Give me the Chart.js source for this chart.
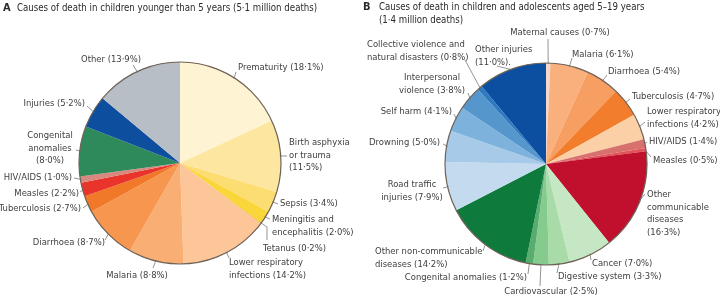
<!DOCTYPE html>
<html>
<head>
<meta charset="utf-8">
<script src="https://cdn.jsdelivr.net/npm/chart.js@4"></script>
<style>
  html, body { margin: 0; padding: 0; background: #fff; }
  #wrap { position: relative; width: 720px; height: 298px; overflow: hidden; }
  #wrap canvas { position: absolute; left: 0; top: 0; }
</style>
</head>
<body>
<div id="wrap">
  <canvas id="chartA" width="720" height="298"></canvas>
  <canvas id="chartB" width="720" height="298"></canvas>
</div>
<script>
// Panel A: children younger than 5 years (% of deaths)
const causesA = ['Prematurity', 'Birth asphyxia or trauma', 'Sepsis', 'Meningitis and encephalitis', 'Tetanus',
    'Lower respiratory infections', 'Malaria', 'Diarrhoea', 'Tuberculosis', 'Measles', 'HIV/AIDS',
    'Congenital anomalies', 'Injuries', 'Other'];
const sharesA = [18.1, 11.5, 3.4, 2.0, 0.2, 14.2, 8.8, 8.7, 2.7, 2.2, 1.0, 8.0, 5.2, 13.9];

// Panel B: children and adolescents aged 5-19 years (% of deaths)
const causesB = ['Maternal causes', 'Malaria', 'Diarrhoea', 'Tuberculosis', 'Lower respiratory infections', 'HIV/AIDS',
    'Measles', 'Other communicable diseases', 'Cancer', 'Digestive system', 'Cardiovascular', 'Congenital anomalies',
    'Other non-communicable diseases', 'Road traffic injuries', 'Drowning', 'Self harm', 'Interpersonal violence',
    'Collective violence and natural disasters', 'Other injuries'];
const sharesB = [0.7, 6.1, 5.4, 4.7, 4.2, 1.4, 0.5, 16.3, 7.0, 3.3, 2.5, 1.2, 14.2, 7.9, 5.0, 4.1, 3.8, 0.8, 11.0];

const coloursA = ['#FEF3D2', '#FDE7A0', '#FCDD72', '#FAD63A', '#F2C01A', '#FCC699', '#F9AE74', '#F6964F',
    '#F07828', '#E8342B', '#D98880', '#2F8A5B', '#0D4E9E', '#B7BEC6'];
const coloursB = ['#F3D8D2', '#FAB07C', '#F79E62', '#F27D2C', '#FBD0A6', '#D8706E', '#E25458', '#C0102E',
    '#C6E7C4', '#A8DBA8', '#86CB8E', '#58AC6E', '#0E7A3C', '#C4DAEE', '#A6CAE7', '#7DB2DD', '#5596CD',
    '#2F7BC0', '#0C4FA0'];

const pct = v => ' (' + v.toFixed(1).replace('.', '\u00b7') + '%)';

// label layout: text lines, text x/y (first line centre), align, leader bend points
const layoutA = [
    { lines: ['Prematurity' + pct(18.1)], x: 238, y: 68, align: 'left', lead: [[236, 72]] },
    { lines: ['Birth asphyxia', 'or trauma', pct(11.5).trim()], x: 289, y: 143, align: 'left', lead: [[287, 156]] },
    { lines: ['Sepsis' + pct(3.4)], x: 280, y: 204, align: 'left', lead: [[278, 204]] },
    { lines: ['Meningitis and', 'encephalitis' + pct(2.0)], x: 272, y: 220, align: 'left', lead: [[270, 219]] },
    { lines: ['Tetanus' + pct(0.2)], x: 263, y: 249, align: 'left', lead: [[267, 227], [267, 240]] },
    { lines: ['Lower respiratory', 'infections' + pct(14.2)], x: 229, y: 263, align: 'left', lead: [[229, 258]] },
    { lines: ['Malaria' + pct(8.8)], x: 137, y: 276, align: 'center', lead: [[153, 268]] },
    { lines: ['Diarrhoea' + pct(8.7)], x: 105, y: 243, align: 'right', lead: [[105, 240]] },
    { lines: ['Tuberculosis' + pct(2.7)], x: 81, y: 209, align: 'right', lead: [[83, 208]] },
    { lines: ['Measles' + pct(2.2)], x: 79, y: 194, align: 'right', lead: [[80, 192]] },
    { lines: ['HIV/AIDS' + pct(1.0)], x: 72, y: 178, align: 'right', lead: [[74, 178]] },
    { lines: ['Congenital', 'anomalies', pct(8.0).trim()], x: 50, y: 136, align: 'center', lead: [[76, 150]] },
    { lines: ['Injuries' + pct(5.2)], x: 85, y: 104, align: 'right', lead: [[87, 106]] },
    { lines: ['Other' + pct(13.9)], x: 111, y: 60, align: 'center', lead: [[133, 65]] }
];
const layoutB = [
    { lines: ['Maternal causes' + pct(0.7)], x: 560, y: 33, align: 'center', lead: [[548, 39]] },
    { lines: ['Malaria' + pct(6.1)], x: 572, y: 55, align: 'left', lead: [[572, 58]] },
    { lines: ['Diarrhoea' + pct(5.4)], x: 608, y: 72, align: 'left', lead: [[607, 75]] },
    { lines: ['Tuberculosis' + pct(4.7)], x: 632, y: 97, align: 'left', lead: [[630, 99]] },
    { lines: ['Lower respiratory', 'infections' + pct(4.2)], x: 647, y: 112, align: 'left', lead: [[645, 122]] },
    { lines: ['HIV/AIDS' + pct(1.4)], x: 649, y: 142, align: 'left', lead: [[647, 142]] },
    { lines: ['Measles' + pct(0.5)], x: 653, y: 161, align: 'left', lead: [[651, 157]] },
    { lines: ['Other', 'communicable', 'diseases', pct(16.3).trim()], x: 647, y: 195, align: 'left', lead: [[645, 194]] },
    { lines: ['Cancer' + pct(7.0)], x: 592, y: 264, align: 'left', lead: [[591, 260]] },
    { lines: ['Digestive system' + pct(3.3)], x: 558, y: 277, align: 'left', lead: [[557, 273]] },
    { lines: ['Cardiovascular' + pct(2.5)], x: 551, y: 292, align: 'center', lead: [[540, 286]] },
    { lines: ['Congenital anomalies' + pct(1.2)], x: 527, y: 278, align: 'right', lead: [[528, 274]] },
    { lines: ['Other non-communicable', 'diseases' + pct(14.2)], x: 375, y: 252, align: 'left', lead: [[483, 251]] },
    { lines: ['Road traffic', 'injuries' + pct(7.9)], x: 412, y: 185, align: 'center', lead: [[443, 188]] },
    { lines: ['Drowning' + pct(5.0)], x: 440, y: 143, align: 'right', lead: [[443, 144]] },
    { lines: ['Self harm' + pct(4.1)], x: 452, y: 112, align: 'right', lead: [[454, 114]] },
    { lines: ['Interpersonal', 'violence' + pct(3.8)], x: 432, y: 78, align: 'center', lead: [[468, 93]] },
    { lines: ['Collective violence and', 'natural disasters' + pct(0.8)], x: 367, y: 45, align: 'left', lead: [[465, 60]] },
    { lines: ['Other injuries', pct(11.0).trim() + '.'], x: 475, y: 50, align: 'left', lead: [[497, 66]] }
];

const FAMILY = "'Liberation Sans Narrow', 'DejaVu Sans Condensed', sans-serif";
const FONT = '9.4px ' + FAMILY;

// leader lines, labels and the dark rim round the pie
const labelPlugin = {
    id: 'pieLabels',
    afterDraw(chart, args, opts) {
        const ctx = chart.ctx;
        const arcs = chart.getDatasetMeta(0).data;
        ctx.save();
        // rim
        const a0 = arcs[0];
        ctx.beginPath();
        ctx.arc(a0.x, a0.y, a0.outerRadius, 0, Math.PI * 2);
        ctx.strokeStyle = '#6f6256';
        ctx.lineWidth = 1.2;
        ctx.stroke();

        ctx.font = FONT;
        ctx.textBaseline = 'middle';
        arcs.forEach((arc, i) => {
            const lay = opts.layout[i];
            const mid = (arc.startAngle + arc.endAngle) / 2;
            const sx = arc.x + Math.cos(mid) * (arc.outerRadius - 1);
            const sy = arc.y + Math.sin(mid) * (arc.outerRadius - 1);
            ctx.beginPath();
            ctx.moveTo(sx, sy);
            lay.lead.forEach(p => ctx.lineTo(p[0], p[1]));
            ctx.strokeStyle = '#666';
            ctx.lineWidth = 0.7;
            ctx.stroke();

            ctx.fillStyle = '#404040';
            ctx.textAlign = lay.align;
            lay.lines.forEach((t, k) => ctx.fillText(t, lay.x, lay.y + k * 12.5));
        });
        ctx.restore();
    }
};

function makePie(id, labels, values, colours, layout, padding) {
    return new Chart(document.getElementById(id), {
        type: 'pie',
        data: {
            labels: labels,
            datasets: [{
                data: values,
                backgroundColor: colours,
                borderWidth: 0
            }]
        },
        options: {
            responsive: false,
            animation: false,
            devicePixelRatio: 1,
            layout: { padding: padding },
            plugins: {
                legend: { display: false },
                tooltip: { enabled: false },
                pieLabels: { layout: layout }
            }
        },
        plugins: [labelPlugin]
    });
}

makePie('chartA', causesA, sharesA, coloursA, layoutA, { left: 78, top: 62, right: 438, bottom: 34 });
makePie('chartB', causesB, sharesB, coloursB, layoutB, { left: 445, top: 63, right: 73, bottom: 33 });

// panel titles
const titleCtx = document.getElementById('chartB').getContext('2d');
titleCtx.save();
titleCtx.fillStyle = '#2a2a2a';
titleCtx.textBaseline = 'middle';
titleCtx.font = 'bold 11px ' + FAMILY;
titleCtx.fillText('A', 3, 8);
titleCtx.fillText('B', 363, 7);
titleCtx.font = '9.6px ' + FAMILY;
titleCtx.fillText('Causes of death in children younger than 5 years (5\u00b71 million deaths)', 17, 8);
titleCtx.fillText('Causes of death in children and adolescents aged 5\u201319 years', 379, 7);
titleCtx.fillText('(1\u00b74 million deaths)', 379, 20);
titleCtx.restore();
</script>
</body>
</html>
